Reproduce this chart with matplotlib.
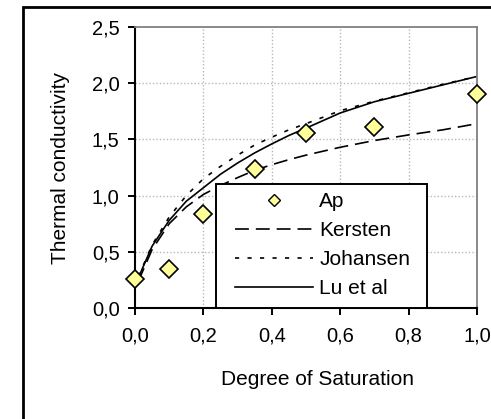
import matplotlib
matplotlib.use("Agg")
import matplotlib.pyplot as plt
from matplotlib.patches import Rectangle
from matplotlib.lines import Line2D

plt.rcParams['font.family'] = ['Liberation Sans', 'DejaVu Sans']
plt.rcParams['lines.scale_dashes'] = False

# Measured thermal conductivity (Ap) vs degree of saturation
sat_ap = [0.0, 0.1, 0.2, 0.35, 0.5, 0.7, 1.0]
k_ap = [0.26, 0.35, 0.84, 1.24, 1.56, 1.61, 1.90]

# Model curves
sat_model = [0.01, 0.05, 0.1, 0.15, 0.2, 0.25, 0.3, 0.35, 0.4, 0.45, 0.5,
             0.6, 0.7, 0.8, 0.9, 1.0]
k_kersten = [0.24, 0.52, 0.75, 0.90, 1.01, 1.09, 1.16, 1.225, 1.275, 1.32, 1.36,
             1.43, 1.49, 1.54, 1.585, 1.64]
k_johansen = [0.28, 0.56, 0.81, 1.00, 1.15, 1.26, 1.36, 1.45, 1.52, 1.585, 1.64,
              1.755, 1.84, 1.915, 1.99, 2.06]
k_lu = [0.27, 0.55, 0.78, 0.95, 1.07, 1.19, 1.29, 1.38, 1.46, 1.535, 1.60,
        1.735, 1.835, 1.91, 1.985, 2.06]

x_ticks = [0.0, 0.2, 0.4, 0.6, 0.8, 1.0]
x_ticklabels = ['0,0', '0,2', '0,4', '0,6', '0,8', '1,0']
y_ticks = [0.0, 0.5, 1.0, 1.5, 2.0, 2.5]
y_ticklabels = ['0,0', '0,5', '1,0', '1,5', '2,0', '2,5']

W, H = 491, 419
fig = plt.figure(figsize=(W / 100, H / 100), dpi=100)
fig.patch.set_facecolor('white')

# outer chart-area border
fig.patches.append(Rectangle((23 / W, -0.1), 1.2, 1 - 7 / H + 0.1,
                             transform=fig.transFigure, fill=False,
                             edgecolor='black', lw=2.0, clip_on=False))

ax = fig.add_axes([135 / W, 1 - 308 / H, (477 - 135) / W, (308 - 27) / H])
ax.set_xlim(0, 1)
ax.set_ylim(0, 2.5)

ax.set_xticks(x_ticks)
ax.set_xticklabels(x_ticklabels)
ax.set_yticks(y_ticks)
ax.set_yticklabels(y_ticklabels)
ax.tick_params(axis='both', direction='out', length=5, width=1.4,
               labelsize=14.5, colors='black')
ax.tick_params(axis='x', pad=8)
ax.tick_params(axis='y', pad=6)

# dotted gridlines at interior ticks
for xv in x_ticks[1:-1]:
    ax.axvline(xv, color='#b8b8b8', lw=1.0, dashes=(1, 1.5), zorder=0.5)
for yv in y_ticks[1:-1]:
    ax.axhline(yv, color='#b8b8b8', lw=1.0, dashes=(1, 1.5), zorder=0.5)

for side in ('left', 'bottom'):
    ax.spines[side].set_linewidth(1.5)
    ax.spines[side].set_color('black')
for side in ('top', 'right'):
    ax.spines[side].set_linewidth(1.3)
    ax.spines[side].set_color('#808080')

ax.plot(sat_model, k_kersten, color='black', lw=1.2, dashes=(10, 5), zorder=2)
ax.plot(sat_model, k_johansen, color='black', lw=1.2, dashes=(3, 6), zorder=2)
ax.plot(sat_model, k_lu, color='black', lw=1.2, zorder=2)
ax.plot(sat_ap, k_ap, linestyle='none', marker='D', markersize=9.5,
        markerfacecolor='#ffff99', markeredgecolor='black', markeredgewidth=1.2,
        zorder=7, clip_on=False)

ax.set_xlabel('Degree of Saturation', fontsize=15)
ax.set_ylabel('Thermal conductivity', fontsize=15)
ax.xaxis.set_label_coords(0.535, -0.256)
ax.xaxis.label.set_va('center')
ax.yaxis.set_label_coords(-0.219, 0.5)
ax.yaxis.label.set_va('center')

# legend box
bx0 = (216 - 135) / 342
bx1 = (427 - 135) / 342
by1 = (308 - 184) / 281
ax.add_patch(Rectangle((bx0, 0), bx1 - bx0, by1, transform=ax.transAxes,
                       facecolor='white', edgecolor='black', lw=1.4, zorder=5))

handles = [
    Line2D([], [], linestyle='none', marker='D', markersize=6.5,
           markerfacecolor='#ffff99', markeredgecolor='black', markeredgewidth=1.0),
    Line2D([], [], color='black', lw=1.2, dashes=(10, 5)),
    Line2D([], [], color='black', lw=1.2, dashes=(3, 6)),
    Line2D([], [], color='black', lw=1.2),
]
labels = ['Ap', 'Kersten', 'Johansen', 'Lu et al']
leg = ax.legend(handles, labels, loc='upper left',
                bbox_to_anchor=((235 - 135) / 342, (308 - 192) / 281),
                frameon=False, borderpad=0, borderaxespad=0, fontsize=15,
                handlelength=3.75, handletextpad=0.3, labelspacing=0.48)
leg.set_zorder(6)

fig.savefig('out.png', dpi=100, facecolor='white')
